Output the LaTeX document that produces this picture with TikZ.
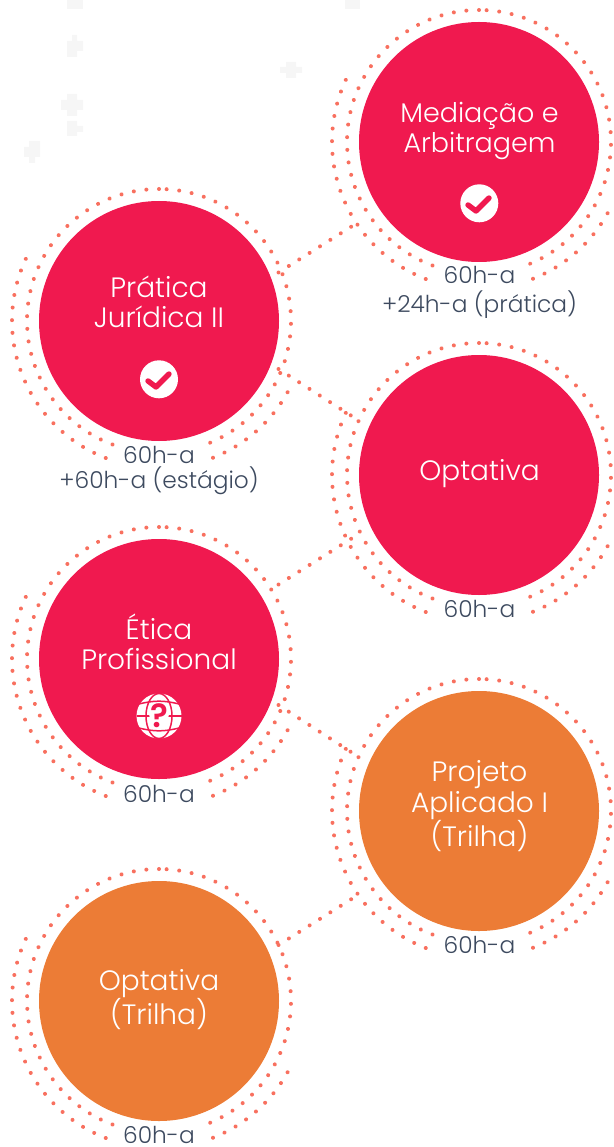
\documentclass[tikz,border=0pt]{standalone}
\usepackage{fontspec}
\setmainfont{Poppins}[UprightFont=*-Light]
\usetikzlibrary{calc}
\definecolor{pinkc}{HTML}{F0194F}
\definecolor{orangec}{HTML}{EC7C36}
\definecolor{dotc}{HTML}{F8705F}
\definecolor{textc}{HTML}{3D4A5F}
\definecolor{ghost}{HTML}{F6F6F6}
\tikzset{
  x=1pt,y=-1pt,
  disc/.style={circle,minimum size=240pt,inner sep=0pt,fill=#1},
  label text/.style={text=white,align=center,font=\fontsize{28}{30.5}\selectfont,inner sep=0pt},
  dotline/.style={draw=dotc,line width=4pt,line cap=round,dash pattern=on 0.01pt off 12.65pt},
  linkline/.style={draw=dotc,line width=4pt,line cap=round,dash pattern=on 0.01pt off 12.25pt},
  hours/.style={text=textc,align=center,font=\fontsize{23.3}{29.7}\selectfont,inner sep=0pt},
  badge/.style={circle,fill=white,minimum size=38pt,inner sep=0pt},
  tick/.style={draw=#1,line width=5.4pt,line cap=round,line join=round},
  ghostmark/.style={fill=ghost,draw=none}
}
\newcommand{\rings}[1]{%
  \draw[dotline] ($(#1)+(86.7:132pt)$) arc[start angle=86.7,end angle=-69.5,radius=132pt];
  \draw[dotline] ($(#1)+(90:132pt)$) arc[start angle=90,end angle=250.5,radius=132pt];
  \draw[dotline] ($(#1)+(155:147pt)$) arc[start angle=155,end angle=253,radius=147pt];
  \draw[dotline] ($(#1)+(331:147pt)$) arc[start angle=331,end angle=288,radius=147pt];
}
\begin{document}
\begin{tikzpicture}
\useasboundingbox (0,0) rectangle (613,1147);
\fill[ghostmark] (67,0) rectangle (83,9);
\fill[ghostmark] (345,0) rectangle (360,9);
\fill[ghostmark] (67,41) rectangle (83,51) (72,35) rectangle (77,41) (67,51) rectangle (77,57);
\fill[ghostmark] (67,94) rectangle (77,116) (61,100) rectangle (83,110);
\fill[ghostmark] (67,121) rectangle (77,136) (77,126) rectangle (83,132);
\fill[ghostmark] (29,141) rectangle (40,155) (24,147) rectangle (40,157) (29,157) rectangle (35,163);
\fill[ghostmark] (286,62) rectangle (296,78) (280,67) rectangle (302,73);

\coordinate (cA) at (479,142);
\coordinate (cB) at (159,321);
\coordinate (cC) at (479,475);
\coordinate (cD) at (159,659);
\coordinate (cE) at (479,811);
\coordinate (cF) at (159,1001);
\foreach \c in {cA,cB,cC,cD,cE,cF} {\rings{\c}}

\coordinate (j1b) at (278.5,272.5);
\coordinate (j1a) at (359.5,221.5);
\coordinate (j2b) at (278.5,369);
\coordinate (j2c) at (359.5,421);
\coordinate (j3d) at (278.5,584.5);
\coordinate (j3c) at (359.5,533.5);
\coordinate (j4d) at (278.5,705);
\coordinate (j4e) at (359.5,757.5);
\coordinate (j5f) at (278.5,945);
\coordinate (j5e) at (359.5,894);
\draw[linkline] (j1b) -- (j1a);
\draw[linkline] (j2b) -- (j2c);
\draw[linkline] (j3d) -- (j3c);
\draw[linkline] (j4d) -- (j4e);
\draw[linkline] (j5f) -- (j5e);

\node[disc=pinkc] (a) at (cA) {};
\node[disc=pinkc] (b) at (cB) {};
\node[disc=pinkc] (c) at (cC) {};
\node[disc=pinkc] (d) at (cD) {};
\node[disc=orangec] (e) at (cE) {};
\node[disc=orangec] (f) at (cF) {};

\node[label text,font=\fontsize{27}{30.5}\selectfont] (ta) at (479.5,131) {Mediação e\\Arbitragem};
\node[label text] (tb) at (159,302) {Prática\\Jurídica II};
\node[label text] (tc) at (479.5,474) {Optativa};
\node[label text] (td) at (159,642) {Ética\\Profissional};
\node[label text] (te) at (479.5,806.5) {Projeto\\Aplicado I\\(Trilha)};
\node[label text] (tf) at (159,999.5) {Optativa\\(Trilha)};

\node[badge] (ba) at (479.3,203.3) {};
\draw[tick=pinkc] (468,205) -- (476,211) -- (489,198);
\node[badge] (bb) at (159,379.3) {};
\draw[tick=pinkc] (148,381) -- (156,387) -- (169,374);

\node[circle,fill=white,minimum size=45pt,inner sep=0pt] (gl) at (159,716) {};
\draw[pinkc,line width=1.5pt] (gl.center) ellipse[x radius=13,y radius=22.5];
\draw[pinkc,line width=1.5pt] (139,704) to[bend left=14] (179,704);
\draw[pinkc,line width=1.5pt] (139,728) to[bend right=14] (179,728);
\draw[pinkc,line width=1.5pt] (136.5,716) -- (181.5,716);
\node[circle,fill=white,minimum size=20pt,inner sep=0pt] (qb) at (159,714) {};
\node[text=pinkc,font=\bfseries\fontsize{33}{33}\selectfont,inner sep=0pt] (qm) at (159,716) {?};

\node[hours] (ha) at (479.5,292.5) {60h-a\\+24h-a (prática)};
\node[hours] (hb) at (159,470.5) {60h-a\\[-4.2pt]+60h-a (estágio)};
\node[hours,anchor=base] (hc) at (479.5,617) {60h-a};
\node[hours,anchor=base] (hd) at (159,802) {60h-a};
\node[hours,anchor=base] (he) at (479.5,953) {60h-a};
\node[hours,anchor=base] (hf) at (159,1143) {60h-a};
\end{tikzpicture}
\end{document}
